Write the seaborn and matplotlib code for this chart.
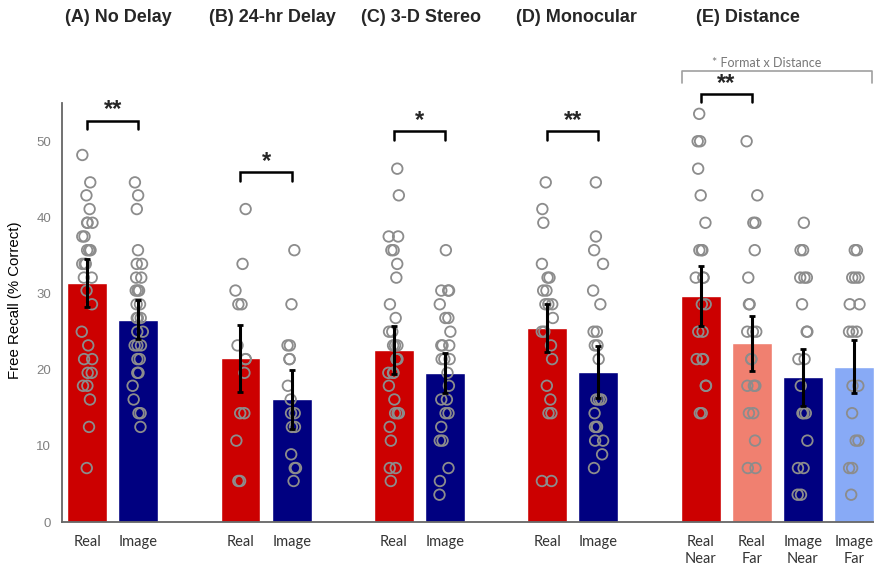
import numpy as np
import pandas as pd
import matplotlib
matplotlib.use("Agg")
import matplotlib.pyplot as plt
from matplotlib import font_manager as fm
import seaborn as sns

# ---------------- data ----------------
titles = ["(A) No Delay", "(B) 24-hr Delay", "(C) 3-D Stereo", "(D) Monocular", "(E) Distance"]
bar_labels = ["Real", "Image", "Real", "Image", "Real", "Image", "Real", "Image",
              "Real\nNear", "Real\nFar", "Image\nNear", "Image\nFar"]
bar_slots = [0, 1, 3, 4, 6, 7, 9, 10, 12, 13, 14, 15]
bar_means = [31.4, 26.6, 21.5, 16.1, 22.6, 19.6, 25.5, 19.7, 29.7, 23.5, 19.0, 20.4]
bar_errs = [3.2, 2.6, 4.4, 3.9, 3.1, 2.6, 3.2, 3.4, 3.9, 3.6, 3.7, 3.5]
bar_colors = ["#CC0000", "#000080", "#CC0000", "#000080", "#CC0000", "#000080",
              "#CC0000", "#000080", "#CC0000", "#F08070", "#000080", "#88AAF6"]

a_real = [48.2, 44.6, 42.9, 41.1, 39.3, 39.3, 39.3, 37.5, 37.5, 35.7, 35.7, 35.7, 33.9, 33.9, 33.9,
          32.1, 32.1, 30.4, 28.6, 25.0, 23.2, 21.4, 21.4, 19.6, 19.6, 17.9, 17.9, 16.1, 12.5, 7.1]
a_image = [44.6, 42.9, 41.1, 35.7, 33.9, 33.9, 32.1, 32.1, 30.4, 30.4, 30.4, 28.6, 28.6, 26.8, 26.8,
           26.8, 25.0, 25.0, 23.2, 23.2, 23.2, 21.4, 21.4, 19.6, 19.6, 17.9, 16.1, 14.3, 14.3, 12.5]
b_real = [41.1, 33.9, 30.4, 28.6, 28.6, 23.2, 21.4, 21.4, 19.6, 14.3, 14.3, 10.7, 5.4, 5.4]
b_image = [35.7, 28.6, 23.2, 23.2, 21.4, 21.4, 17.9, 16.1, 14.3, 14.3, 12.5, 12.5, 8.9, 7.1, 7.1, 5.4]
c_real = [46.4, 42.9, 37.5, 37.5, 35.7, 35.7, 33.9, 32.1, 28.6, 26.8, 25.0, 25.0, 23.2, 23.2, 23.2,
          21.4, 21.4, 21.4, 19.6, 19.6, 19.6, 17.9, 16.1, 14.3, 14.3, 14.3, 12.5, 10.7, 7.1, 7.1, 5.4]
c_image = [35.7, 30.4, 30.4, 30.4, 28.6, 26.8, 26.8, 25.0, 23.2, 23.2, 23.2, 21.4, 21.4, 21.4, 19.6,
           17.9, 16.1, 16.1, 14.3, 14.3, 12.5, 10.7, 10.7, 7.1, 5.4, 3.6]
d_real = [44.6, 41.1, 39.3, 33.9, 32.1, 32.1, 30.4, 30.4, 28.6, 28.6, 28.6, 26.8, 25.0, 25.0, 23.2,
          21.4, 17.9, 16.1, 14.3, 14.3, 5.4, 5.4]
d_image = [44.6, 37.5, 35.7, 33.9, 30.4, 28.6, 25.0, 25.0, 23.2, 23.2, 21.4, 16.1, 16.1, 16.1, 14.3,
           12.5, 12.5, 12.5, 10.7, 10.7, 8.9, 7.1]
e_real_near = [53.6, 50.0, 50.0, 46.4, 42.9, 39.3, 35.7, 35.7, 35.7, 32.1, 32.1, 32.1, 28.6, 28.6,
               25.0, 25.0, 21.4, 21.4, 21.4, 17.9, 17.9, 14.3, 14.3]
e_real_far = [50.0, 42.9, 39.3, 39.3, 35.7, 32.1, 28.6, 28.6, 25.0, 25.0, 25.0, 21.4, 21.4, 17.9,
              17.9, 17.9, 14.3, 14.3, 10.7, 7.1, 7.1]
e_image_near = [39.3, 35.7, 35.7, 32.1, 32.1, 32.1, 28.6, 25.0, 25.0, 21.4, 21.4, 17.9, 14.3, 14.3,
                14.3, 10.7, 7.1, 7.1, 3.6, 3.6]
e_image_far = [35.7, 35.7, 32.1, 32.1, 32.1, 28.6, 28.6, 25.0, 25.0, 25.0, 17.9, 17.9, 14.3, 10.7,
               10.7, 7.1, 7.1, 3.6]
point_sets = [a_real, a_image, b_real, b_image, c_real, c_image, d_real, d_image,
              e_real_near, e_real_far, e_image_near, e_image_far]

# significance brackets: (left slot, right slot, text)
sig_pairs = [(0, 1, "**"), (3, 4, "*"), (6, 7, "*"), (9, 10, "**"), (12, 13, "**")]
sig_levels = [52.7, 45.9, 51.3, 51.3, 56.2]

# ---------------- fonts ----------------
names = {f.name for f in fm.fontManager.ttflist}
title_font = "Liberation Sans Narrow" if "Liberation Sans Narrow" in names else "Liberation Sans"
title_size = 15 if title_font == "Liberation Sans Narrow" else 13

sns.set_style("white")
plt.rcParams["font.family"] = ["Liberation Sans", "DejaVu Sans"]

# ---------------- frames ----------------
bars_df = pd.DataFrame({"slot": bar_slots, "mean": bar_means, "err": bar_errs,
                        "cond": [f"c{i}" for i in range(len(bar_slots))]})
palette = {f"c{i}": c for i, c in enumerate(bar_colors)}
pts = []
for s, vals in zip(bar_slots, point_sets):
    for v in vals:
        pts.append({"slot": s, "value": v})
pts_df = pd.DataFrame(pts)

fig = plt.figure(figsize=(8.74, 5.70), dpi=100)
ax = fig.add_axes([0.071, 0.084, 0.929, 0.735])

sns.barplot(data=bars_df, x="slot", y="mean", hue="cond", palette=palette, native_scale=True,
            dodge=False, width=0.78, legend=False, errorbar=None, ax=ax, saturation=1, zorder=1)

n_before = len(ax.collections)
np.random.seed(7)
sns.stripplot(data=pts_df, x="slot", y="value", native_scale=True, jitter=0.11, size=7.6,
              color="#8c8c8c", ax=ax, zorder=3)
for coll in ax.collections[n_before:]:
    coll.set_facecolor("none")
    coll.set_edgecolor("#8c8c8c")
    coll.set_linewidth(1.3)

ax.errorbar(bars_df["slot"], bars_df["mean"], yerr=bars_df["err"], fmt="none", ecolor="black",
            elinewidth=2.2, capsize=2.5, capthick=2, zorder=4)

ax.set_xlim(-0.49, 15.39)
ax.set_ylim(0, 55)
ax.set_yticks([0, 10, 20, 30, 40, 50])
ax.set_xticks(bar_slots)
ax.set_xticklabels(bar_labels, fontfamily="Lato", fontsize=10.5, color="#333333", linespacing=1.3)
ax.tick_params(axis="x", length=0, pad=9)
ax.tick_params(axis="y", direction="in", length=4, width=1, color="#555555", labelsize=9.5,
               labelcolor="#808080", pad=8)
for side in ["top", "right"]:
    ax.spines[side].set_visible(False)
for side in ["left", "bottom"]:
    ax.spines[side].set_color("#666666")
    ax.spines[side].set_linewidth(1.3)
ax.set_xlabel("")
ax.set_ylabel("Free Recall (% Correct)", fontsize=10.8, color="black")
ax.yaxis.set_label_coords(-0.049, 0.53)

# brackets
for (l, r, txt), lev in zip(sig_pairs, sig_levels):
    leg = 1.1
    ax.plot([l, l, r, r], [lev - leg, lev, lev, lev - leg], color="black", lw=1.8,
            clip_on=False, solid_joinstyle="miter", zorder=5)
    ax.text((l + r) / 2, lev - 0.1, txt, ha="center", va="bottom", fontsize=17,
            fontweight="bold", clip_on=False)

ax.plot([11.63, 11.63, 15.36, 15.36], [57.6, 59.2, 59.2, 57.6], color="#a0a0a0", lw=1.2,
        clip_on=False)
ax.text(13.3, 60.25, "* Format x Distance", ha="center", va="center", fontsize=9,
        fontfamily="Lato", color="#777777", clip_on=False)

title_x = [118, 272, 421, 576, 748]
for t, x in zip(titles, title_x):
    fig.text(x / 874, 1 - 18 / 570, t, ha="center", va="center", fontsize=title_size,
             fontweight="bold", fontfamily=title_font)

fig.savefig("out.png", dpi=100)
